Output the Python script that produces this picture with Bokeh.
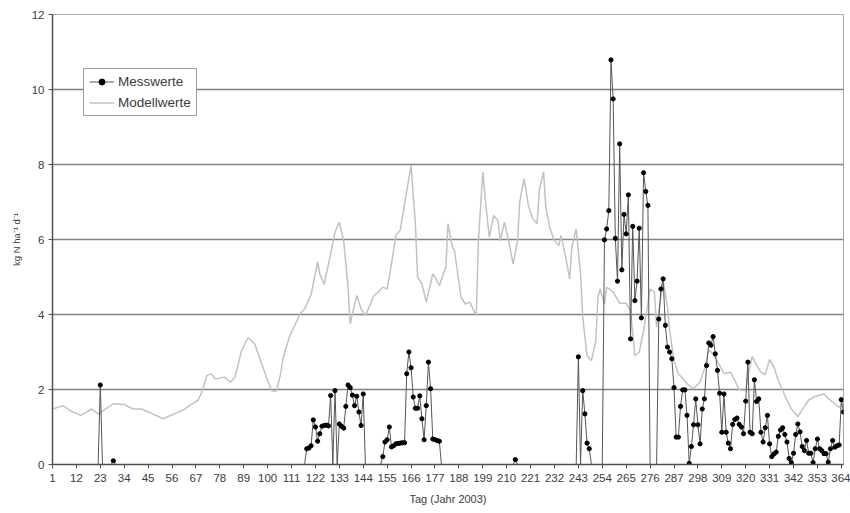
import numpy as np
from bokeh.plotting import figure
from bokeh.models import FixedTicker, Legend, LegendItem, Range1d
from bokeh.embed import file_html
from bokeh.resources import INLINE

# Messwerte: Tag des Jahres 2003 und gemessener N-Fluss (kg N ha-1 d-1)
mess_tage = ([23, 29]
             + list(range(118, 130)) + [131] + list(range(133, 145))
             + list(range(153, 180))
             + [214]
             + [243, 245, 246, 247, 248]
             + list(range(255, 276))
             + list(range(280, 366)))
mess_werte = ([2.12, 0.10]
              + [0.42, 0.44, 0.50, 1.19, 1.00, 0.62, 0.82, 1.02, 1.04, 1.05, 1.03, 1.84]
              + [1.97]
              + [1.08, 1.02, 0.97, 1.55, 2.12, 2.05, 1.85, 1.57, 1.82, 1.40, 1.04, 1.88]
              + [0.21, 0.60, 0.66, 1.00, 0.47, 0.50, 0.55, 0.56, 0.57, 0.58,
                 0.58, 2.42, 3.00, 2.58, 1.80, 1.50, 1.50, 1.83, 1.22, 0.66,
                 1.57, 2.73, 2.02, 0.68, 0.66, 0.64, 0.62]
              + [0.13]
              + [2.87, 1.97, 1.35, 0.57, 0.42]
              + [5.99, 6.28, 6.77, 10.79, 9.75, 6.03, 4.89, 8.55, 5.19, 6.67,
                 6.15, 7.19, 3.35, 6.35, 4.37, 4.89, 6.30, 3.91, 7.78, 7.28, 6.91]
              + [3.88, 4.68, 4.95, 3.71, 3.13, 3.00, 2.82, 2.05, 0.73, 0.73,
                 1.55, 1.99, 1.99, 1.31, 0.03, 0.48, 1.06, 1.75, 1.06, 0.55,
                 1.48, 1.75, 2.64, 3.24, 3.18, 3.41, 2.95, 2.51, 1.90, 0.86,
                 1.88, 0.86, 0.57, 0.42, 1.07, 1.20, 1.24, 1.07, 1.00, 0.82,
                 1.69, 2.73, 0.86, 0.82, 2.26, 1.68, 1.75, 0.86, 0.60, 0.98,
                 1.31, 0.55, 0.21, 0.28, 0.33, 0.75, 0.92, 0.98, 0.80, 0.60,
                 0.16, 0.05, 0.30, 0.80, 1.08, 0.87, 0.48, 0.37, 0.64, 0.30,
                 0.30, 0.05, 0.42, 0.68, 0.42, 0.37, 0.29, 0.29, 0.06, 0.42,
                 0.64, 0.46, 0.50, 0.52, 1.73, 1.40])

# Modellwerte
modell_tage = [1, 6, 9, 14, 19, 22, 29, 34, 38, 42, 47, 52, 57, 61, 64, 68, 70,
               72, 74, 76, 80, 83, 85, 88, 91, 94, 97, 100, 102, 104, 106, 107,
               110, 115, 117, 120, 123, 124, 126, 129, 131, 133, 135, 137, 138,
               141, 143, 145, 149, 151, 153, 155, 157, 159, 161, 163, 166, 168,
               169, 171, 173, 176, 177, 179, 182, 183, 185, 186, 189, 191, 193,
               196, 197, 199, 201, 202, 204, 206, 207, 209, 211, 213, 215, 216,
               218, 220, 222, 224, 225, 227, 228, 230, 232, 234, 235, 237, 239,
               240, 242, 244, 245, 247, 249, 251, 252, 253, 255, 256, 259, 262,
               265, 267, 269, 271, 273, 276, 278, 279, 282, 284, 285, 287, 289,
               291, 293, 296, 299, 301, 303, 305, 307, 310, 313, 315, 317, 320,
               321, 323, 325, 327, 329, 331, 333, 335, 338, 341, 344, 347, 349,
               352, 356, 358, 361, 363, 365]
modell_werte = [1.48, 1.57, 1.44, 1.31, 1.48, 1.35, 1.62, 1.60, 1.48, 1.48, 1.35,
                1.22, 1.35, 1.45, 1.57, 1.71, 1.97, 2.37, 2.42, 2.28, 2.33, 2.20,
                2.33, 3.04, 3.38, 3.22, 2.73, 2.24, 1.96, 1.96, 2.42, 2.82, 3.40,
                4.02, 4.15, 4.53, 5.40, 5.08, 4.80, 5.62, 6.20, 6.46, 5.97, 4.73,
                3.75, 4.51, 4.15, 3.97, 4.51, 4.60, 4.73, 4.68, 5.35, 6.11, 6.24,
                6.95, 7.97, 6.40, 5.00, 4.82, 4.33, 5.08, 5.00, 4.77, 5.26, 6.42,
                5.80, 5.70, 4.46, 4.28, 4.33, 3.97, 5.97, 7.80, 6.60, 6.06, 6.64,
                6.50, 5.97, 6.46, 5.93, 5.35, 5.97, 7.00, 7.62, 6.91, 6.55, 6.42,
                7.31, 7.80, 6.86, 6.28, 5.97, 5.84, 6.11, 5.57, 4.95, 5.80, 6.28,
                5.08, 3.93, 2.90, 2.77, 3.30, 4.46, 4.68, 4.28, 4.73, 4.60, 4.30,
                4.30, 4.10, 2.90, 3.00, 3.57, 4.68, 4.60, 3.66, 4.90, 4.20, 3.57,
                2.77, 2.42, 2.30, 2.15, 2.02, 2.20, 2.55, 3.05, 2.95, 2.75, 2.42,
                2.46, 2.24, 1.99, 1.97, 2.37, 2.88, 2.65, 2.46, 2.40, 2.80, 2.60,
                2.24, 1.84, 1.48, 1.28, 1.55, 1.72, 1.82, 1.88, 1.76, 1.62, 1.53,
                1.66]

x_ticks = list(range(1, 365, 11))
y_ticks = [0, 2, 4, 6, 8, 10, 12]

assert len(mess_tage) == len(mess_werte)
assert len(modell_tage) == len(modell_werte)

# Days without a measurement are drawn at zero on the measured line
alle_tage = np.arange(1, 366)
mess_linie = np.zeros(len(alle_tage))
mess_linie[np.array(mess_tage) - 1] = mess_werte

FONT = "Liberation Sans"
TEXT = "#3c3c3c"

p = figure(width=850, height=513, output_backend="svg", toolbar_location=None,
           x_range=Range1d(1, 365), y_range=Range1d(0, 12),
           min_border_left=52, min_border_right=7, min_border_top=14,
           min_border_bottom=49)
p.background_fill_color = "white"
p.border_fill_color = "white"
p.outline_line_color = "#a8a8a8"
p.outline_line_width = 1

r_mod = p.line(modell_tage, modell_werte, line_color="#c2c2c2", line_width=1.5)
r_line = p.line(alle_tage, mess_linie, line_color="#555555", line_width=1)
r_pts = p.scatter(mess_tage, mess_werte, marker="circle", size=4.2,
                  fill_color="black", line_color="black")

p.xgrid.visible = False
p.ygrid.ticker = FixedTicker(ticks=y_ticks[1:])
p.ygrid.grid_line_color = "#808080"
p.ygrid.grid_line_width = 1.6

p.xaxis.ticker = FixedTicker(ticks=x_ticks)
p.yaxis.ticker = FixedTicker(ticks=y_ticks)
for ax in (p.xaxis[0], p.yaxis[0]):
    ax.axis_line_color = "#505050"
    ax.axis_line_width = 1.5
    ax.major_tick_line_color = "#505050"
    ax.major_tick_line_width = 1
    ax.major_tick_out = 4
    ax.major_tick_in = 0
    ax.minor_tick_line_color = None
    ax.major_label_text_font = FONT
    ax.major_label_text_font_size = "11.5px"
    ax.major_label_text_color = TEXT
    ax.axis_label_text_font = FONT
    ax.axis_label_text_font_style = "normal"
    ax.axis_label_text_color = TEXT

p.xaxis.major_label_standoff = 5
p.xaxis.axis_label = "Tag (Jahr 2003)"
p.xaxis.axis_label_text_font_size = "11px"
p.xaxis.axis_label_standoff = 8

p.yaxis.major_label_standoff = 4
p.yaxis.axis_label = "kg N ha\u207b\u00b9 d\u207b\u00b9"
p.yaxis.axis_label_text_font_size = "9.5px"
p.yaxis.axis_label_standoff = 7

legend = Legend(items=[LegendItem(label="Messwerte", renderers=[r_line, r_pts]),
                       LegendItem(label="Modellwerte", renderers=[r_mod])],
                location=(31, 348))
legend.label_text_font = FONT
legend.label_text_font_size = "13.5px"
legend.label_text_color = TEXT
legend.label_height = 15
legend.glyph_height = 15
legend.glyph_width = 25
legend.label_standoff = 4
legend.spacing = 6
legend.padding = 5
legend.margin = 0
legend.border_line_color = "#404040"
legend.border_line_width = 1
legend.background_fill_color = "white"
legend.background_fill_alpha = 1
p.add_layout(legend)

open("out.html", "w").write(file_html(p, INLINE))
